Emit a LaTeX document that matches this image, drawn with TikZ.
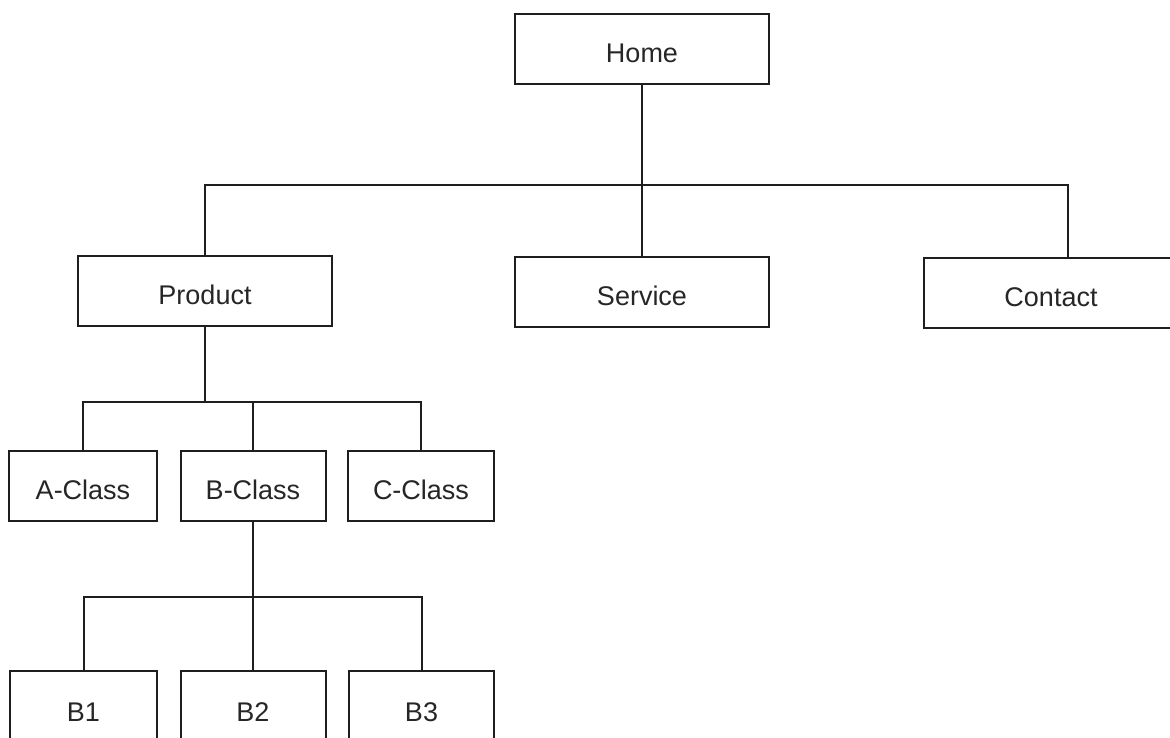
\documentclass[tikz,border=0pt]{standalone}
\usepackage{fontspec}
\setmainfont{Liberation Sans}
\definecolor{linec}{HTML}{1E1E1E}
\definecolor{textc}{HTML}{262626}
\begin{document}
\begin{tikzpicture}[x=1pt,y=-1pt,
  box/.style={draw=linec, line width=2pt, inner sep=0pt, minimum height=70pt,
    text=textc, font=\fontsize{27}{32}\selectfont, text height=27pt, text depth=0pt},
  wide/.style={box, minimum width=254pt},
  conn/.style={draw=linec, line width=2pt}]
\useasboundingbox (0,0) rectangle (1170,738);
\fill[white] (0,0) rectangle (1170,738);
% top
\node[wide] (home) at (642,49) {Home};
\node[wide] (product) at (205,291) {Product};
\node[wide] (service) at (642,292) {Service};
\node[wide] (contact) at (1051,293) {Contact};
% second level
\node[box, minimum width=148pt] (aclass) at (83,486) {A-Class};
\node[box, minimum width=145pt] (bclass) at (253,486) {B-Class};
\node[box, minimum width=146pt] (cclass) at (421,486) {C-Class};
% third level
\node[box, minimum width=147pt, minimum height=74pt] (b1) at (83.5,708) {B1};
\node[box, minimum width=145pt, minimum height=74pt] (b2) at (253,708) {B2};
\node[box, minimum width=145pt, minimum height=74pt] (b3) at (421.5,708) {B3};
% connectors
\coordinate (j1) at (642,185);
\draw[conn] (home.south) -- (j1);
\draw[conn] (product.north) |- (j1) -| ([xshift=17pt]contact.north);
\draw[conn] (j1) -- (service.north);
\coordinate (j2) at (205,402);
\draw[conn] (product.south) -- (j2);
\draw[conn] (aclass.north) |- (j2) -| (cclass.north);
\draw[conn] (bclass.north) -- (bclass.north |- j2);
\coordinate (j3) at (253,597);
\draw[conn] (bclass.south) -- (j3);
\draw[conn] (b1.north) |- (j3) -| (b3.north);
\draw[conn] (j3) -- (b2.north);
\end{tikzpicture}
\end{document}
